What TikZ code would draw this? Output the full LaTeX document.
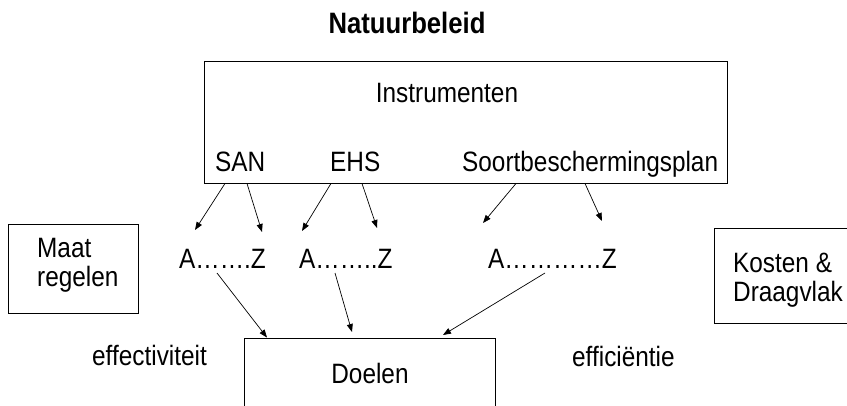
\documentclass[tikz,border=0pt]{standalone}
\usepackage{fontspec}
\setmainfont{Liberation Sans}[FakeStretch=0.87]
\usetikzlibrary{arrows.meta}
\begin{document}
\begin{tikzpicture}[x=1pt,y=-1pt,
  box/.style={draw, line width=0.9pt, inner sep=0pt},
  lbl/.style={anchor=base west, inner sep=0pt, font=\fontsize{28}{33}\selectfont},
  clbl/.style={lbl, anchor=base},
  rng/.style={lbl, outer ysep=5pt},
  arr/.style={line width=0.7pt, -{Triangle[length=8pt,width=6pt]}}]
\clip (0,0) rectangle (847,405);

% boxes
\node[box, minimum width=523pt, minimum height=121.5pt] (instr) at (465.5,122.25) {};
\node[box, minimum width=130pt, minimum height=89pt] (maat) at (73,268.5) {};
\node[box, minimum width=133pt, minimum height=95pt] (kosten) at (780.5,275.5) {};
\node[box, minimum width=251pt, minimum height=100pt] (doelen) at (369.5,388) {};

% texts
\node[anchor=base, inner sep=0pt, font=\bfseries\fontsize{29.5}{34}\selectfont] (title) at (407,33) {Natuurbeleid};
\node[clbl] (instrtext) at (447,102) {Instrumenten};
\node[lbl] (san) at (215,171) {SAN};
\node[lbl] (ehs) at (330,171) {EHS};
\node[lbl] (sbp) at (462,171) {Soortbeschermingsplan};
\node[rng] (az1) at (179,268) {A…….Z};
\node[rng] (az2) at (299,268) {A……..Z};
\node[rng] (az3) at (488,268) {A…………Z};
\node[lbl] (maat1) at (37,257) {Maat};
\node[lbl] (maat2) at (37,286) {regelen};
\node[lbl] (kost1) at (733,272) {Kosten \&};
\node[lbl] (kost2) at (733,301) {Draagvlak};
\node[lbl] (effect) at (92,365) {effectiviteit};
\node[lbl] (effic) at (572,366) {efficiëntie};
\node[clbl] (doelentext) at (370,383) {Doelen};

% free arrow ends
\coordinate (e1) at (195,230);
\coordinate (e2) at (262,232);
\coordinate (e3) at (302,231);
\coordinate (e4) at (377,228);
\coordinate (e5) at (483,223);
\coordinate (e6) at (602,221);
\coordinate (e8) at (352,332);
\coordinate (e9) at (443,335);

% arrows from the instruments
\draw[arr] (225,0 |- instr.south) -- (e1);
\draw[arr] (247,0 |- instr.south) -- (e2);
\draw[arr] (331,0 |- instr.south) -- (e3);
\draw[arr] (362,0 |- instr.south) -- (e4);
\draw[arr] (516,0 |- instr.south) -- (e5);
\draw[arr] (585,0 |- instr.south) -- (e6);

% arrows towards the goals
\draw[arr] (217,0 |- az1.south) -- (267,0 |- doelen.north);
\draw[arr] (335,0 |- az2.south) -- (e8);
\draw[arr] (545,0 |- az3.south) -- (e9);
\end{tikzpicture}
\end{document}
